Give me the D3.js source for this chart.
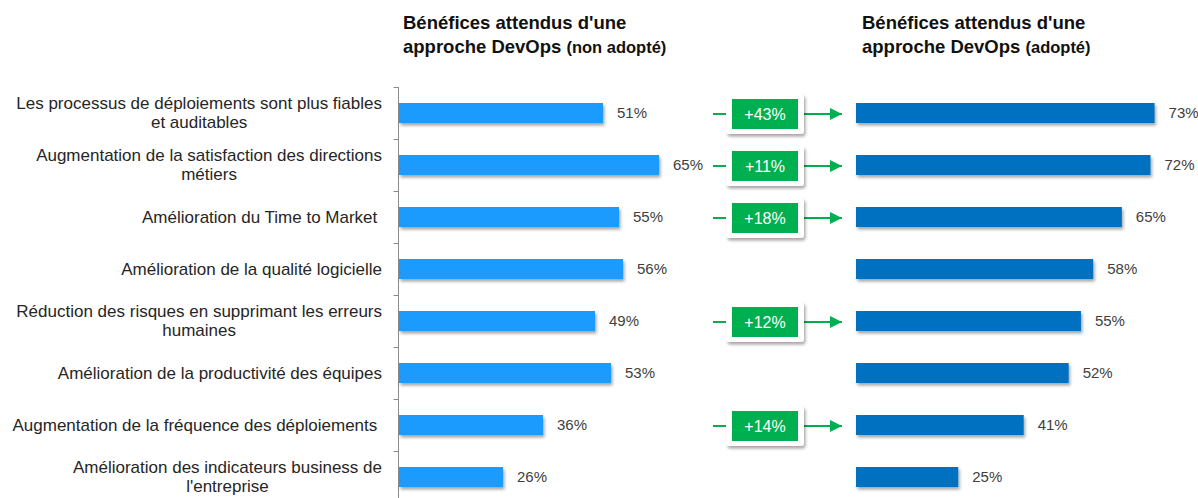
<!DOCTYPE html>
<html>
<head>
<meta charset="utf-8">
<script src="https://cdn.jsdelivr.net/npm/d3@7"></script>
<style>
  body { margin: 0; background: #fff; }
  svg { font-family: "Liberation Sans", Arial, sans-serif; }
  .cat { font-size: 17px; fill: #262626; white-space: pre; }
  .val { font-size: 15px; fill: #404040; }
  .title { font-size: 18.5px; font-weight: bold; fill: #111; }
  .title .sub { font-size: 16.5px; }
  .delta { font-size: 16px; fill: #fff; }
</style>
</head>
<body>
<div id="chart"></div>
<script>
var width = 1198;
var height = 498;

// data
var categories = [
  ["Les processus de déploiements sont plus fiables", "et auditables"],
  ["Augmentation de la satisfaction des directions", "métiers"],
  ["Amélioration du Time to Market "],
  ["Amélioration de la qualité logicielle"],
  ["Réduction des risques en supprimant les erreurs", "humaines"],
  ["Amélioration de la productivité des équipes"],
  ["Augmentation de la fréquence des déploiements "],
  ["Amélioration des indicateurs business de", "l'entreprise"]
];
var nonAdopted = [51, 65, 55, 56, 49, 53, 36, 26];
var adopted = [73, 72, 65, 58, 55, 52, 41, 25];
var deltas = ["+43%", "+11%", "+18%", null, "+12%", null, "+14%", null];

var green = "#00b050";
var leftBlue = "#1e9bff";
var rightBlue = "#0070c0";

var svg = d3.select("#chart")
            .append("svg")
              .attr("width", width)
              .attr("height", height);

// shadow filter
var defs = svg.append("defs");
var shadow = defs.append("filter")
                   .attr("id", "shadow")
                   .attr("x", "-10%").attr("y", "-30%")
                   .attr("width", "130%").attr("height", "180%");
shadow.append("feDropShadow")
        .attr("dx", 1.5)
        .attr("dy", 2.5)
        .attr("stdDeviation", 1.5)
        .attr("flood-color", "#000")
        .attr("flood-opacity", 0.35);

defs.append("marker")
      .attr("id", "arrow")
      .attr("viewBox", "0 0 10 10")
      .attr("refX", 10)
      .attr("refY", 5)
      .attr("markerWidth", 6)
      .attr("markerHeight", 6)
      .attr("markerUnits", "strokeWidth")
      .attr("orient", "auto")
    .append("path")
      .attr("d", "M0,0L10,5L0,10Z")
      .attr("fill", green);

// scales
var idx = d3.range(categories.length);
var yScale = d3.scaleBand()
                .domain(idx)
                .range([87, 87 + 52 * categories.length]);
var barH = 20;
var rowMid = function(i) { return yScale(i) + yScale.bandwidth() / 2; };

var xLeft = d3.scaleLinear().domain([0, 100]).range([399, 799]);
var xRight = d3.scaleLinear().domain([0, 100]).range([856, 1265]);

// titles
function title(x, sub) {
  var t = svg.append("text").attr("class", "title").attr("x", x).attr("y", 29);
  t.append("tspan").text("Bénéfices attendus d'une");
  var t2 = svg.append("text").attr("class", "title").attr("x", x).attr("y", 53);
  t2.append("tspan").text("approche DevOps ");
  t2.append("tspan").attr("class", "sub").text(sub);
}
title(403, "(non adopté)");
title(862, "(adopté)");

// axis
var axis = d3.axisLeft(yScale).tickSize(5).tickFormat("");
var axisG = svg.append("g")
                 .attr("transform", "translate(398.5,0)")
                 .call(axis);
axisG.select(".domain").remove();
axisG.selectAll(".tick").attr("transform", function(d) {
  return "translate(0," + (yScale(d) + 0.5) + ")";
});
axisG.selectAll("line").attr("stroke", "#8c8c8c");
axisG.append("line")
       .attr("x1", 0).attr("x2", 0)
       .attr("y1", 87).attr("y2", height)
       .attr("stroke", "#8c8c8c");

// category labels: block right aligned, lines centred within block
var rightEdge = 382;
var lineH = 19;
categories.forEach(function(lines, i) {
  var g = svg.append("g");
  var texts = lines.map(function(l, j) {
    return g.append("text")
              .attr("class", "cat")
              .attr("xml:space", "preserve")
              .attr("y", rowMid(i) + (j - (lines.length - 1) / 2) * lineH)
              .attr("dy", "0.35em")
              .text(l);
  });
  var widths = texts.map(function(t) { return t.node().getComputedTextLength(); });
  var maxW = d3.max(widths);
  texts.forEach(function(t) {
    t.attr("x", rightEdge - maxW / 2).attr("text-anchor", "middle");
  });
});

// left bars
svg.selectAll(".bar-left")
     .data(nonAdopted)
     .enter()
   .append("rect")
     .attr("class", "bar-left")
     .attr("x", xLeft(0))
     .attr("y", function(d, i) { return rowMid(i) - barH / 2; })
     .attr("width", function(d) { return xLeft(d) - xLeft(0); })
     .attr("height", barH)
     .attr("fill", leftBlue)
     .attr("filter", "url(#shadow)");

svg.selectAll(".val-left")
     .data(nonAdopted)
     .enter()
   .append("text")
     .attr("class", "val")
     .attr("x", function(d) { return xLeft(d) + 14; })
     .attr("y", function(d, i) { return rowMid(i); })
     .attr("dy", "0.35em")
     .text(function(d) { return d + "%"; });

// right bars
svg.selectAll(".bar-right")
     .data(adopted)
     .enter()
   .append("rect")
     .attr("class", "bar-right")
     .attr("x", xRight(0))
     .attr("y", function(d, i) { return rowMid(i) - barH / 2; })
     .attr("width", function(d) { return xRight(d) - xRight(0); })
     .attr("height", barH)
     .attr("fill", rightBlue)
     .attr("filter", "url(#shadow)");

svg.selectAll(".val-right")
     .data(adopted)
     .enter()
   .append("text")
     .attr("class", "val")
     .attr("x", function(d) { return xRight(d) + 14; })
     .attr("y", function(d, i) { return rowMid(i); })
     .attr("dy", "0.35em")
     .text(function(d) { return d + "%"; });

// delta boxes
var deltaG = svg.selectAll(".delta-g")
                  .data(deltas.map(function(d, i) { return {v: d, i: i}; })
                              .filter(function(d) { return d.v; }))
                  .enter()
                .append("g")
                  .attr("class", "delta-g")
                  .attr("transform", function(d) { return "translate(0," + (rowMid(d.i) + 1) + ")"; });

deltaG.append("line")
        .attr("x1", 713).attr("x2", 726)
        .attr("y1", 0).attr("y2", 0)
        .attr("stroke", green).attr("stroke-width", 2);

deltaG.append("line")
        .attr("x1", 804).attr("x2", 842)
        .attr("y1", 0).attr("y2", 0)
        .attr("stroke", green).attr("stroke-width", 2)
        .attr("marker-end", "url(#arrow)");

deltaG.append("rect")
        .attr("x", 726).attr("y", -20)
        .attr("width", 78).attr("height", 40)
        .attr("rx", 3)
        .attr("fill", "#fff")
        .attr("filter", "url(#shadow)");

deltaG.append("rect")
        .attr("x", 732).attr("y", -15)
        .attr("width", 66).attr("height", 30)
        .attr("fill", green);

deltaG.append("text")
        .attr("class", "delta")
        .attr("x", 765)
        .attr("y", 0)
        .attr("dy", "0.36em")
        .attr("text-anchor", "middle")
        .text(function(d) { return d.v; });
</script>
</body>
</html>
